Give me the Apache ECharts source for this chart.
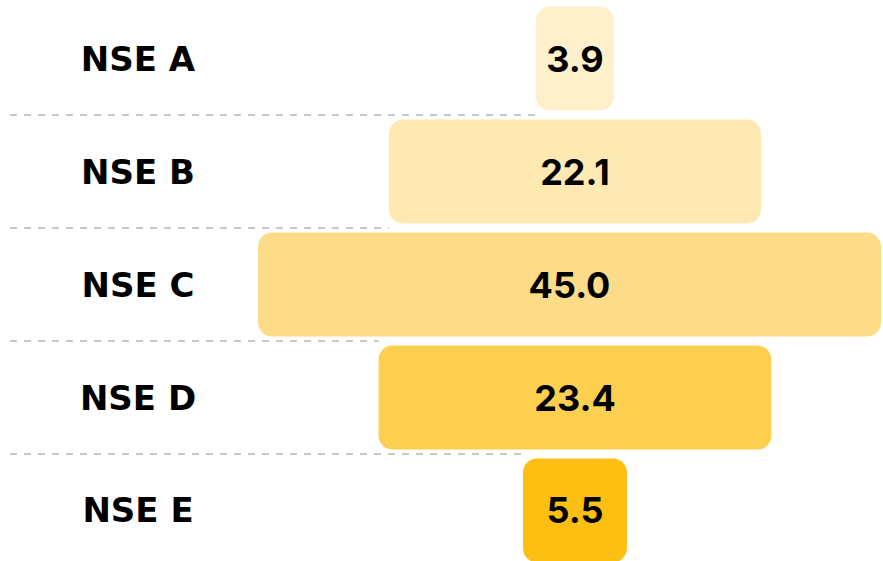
<!DOCTYPE html>
<html>
<head>
<meta charset="utf-8">
<script src="https://cdn.jsdelivr.net/npm/echarts@6/dist/echarts.min.js"></script>
<style>
  html, body { margin: 0; padding: 0; background: #fff; }
  #nse-chart { width: 883px; height: 561px; }
</style>
</head>
<body>
<div id="nse-chart"></div>
<script>
// ==============================================================
// data
// ==============================================================
var categories = ['NSE A', 'NSE B', 'NSE C', 'NSE D', 'NSE E'];
var values = [3.9, 22.1, 45.0, 23.4, 5.5];

// bar colours, light to dark
var barColors = ['#FEF0CB', '#FEE9B2', '#FDDC89', '#FDCF4F', '#FDBF12'];

var LABEL_FONT = '"DejaVu Sans", sans-serif';
var VALUE_FONT = '"Inter", "DejaVu Sans", sans-serif';

// ==============================================================
// centred bars chart option
// ==============================================================
var myChart = echarts.init(document.getElementById('nse-chart'), null, { renderer: 'svg' });

function renderBar(params, api) {
    var idx = params.dataIndex;
    var v = api.value(0);
    var c = api.coord([0, api.value(1)]);
    var band = api.size([0, 1])[1];
    var grid = params.coordSys;
    var pad = 15;

    function halfWidth(val) {
        return (api.size([val, 0])[0] + pad) / 2;
    }

    var h = band * 0.92;
    var x0 = Math.max(c[0] - halfWidth(v), grid.x);
    var x1 = Math.min(c[0] + halfWidth(v), grid.x + grid.width);

    var children = [];

    // dashed separator under the row
    if (idx < values.length - 1) {
        var narrow = Math.min(halfWidth(v), halfWidth(values[idx + 1]));
        var yLine = c[1] + band / 2;
        children.push({
            type: 'line',
            shape: { x1: 10, y1: yLine, x2: c[0] - narrow, y2: yLine },
            style: { stroke: '#c8c8c8', lineWidth: 2, lineDash: [7, 7] }
        });
    }

    // row label
    children.push({
        type: 'text',
        style: {
            text: categories[idx],
            x: grid.x - 120,
            y: c[1],
            align: 'center',
            verticalAlign: 'middle',
            fill: '#000',
            font: 'bold 34px ' + LABEL_FONT
        }
    });

    children.push({
        type: 'rect',
        shape: { x: x0, y: c[1] - h / 2, width: x1 - x0, height: h, r: 14 },
        style: { fill: barColors[idx] }
    });

    children.push({
        type: 'text',
        style: {
            text: v.toFixed(1),
            x: (x0 + x1) / 2,
            y: c[1],
            align: 'center',
            verticalAlign: 'middle',
            fill: '#000',
            font: 'bold 36px ' + VALUE_FONT
        }
    });

    return { type: 'group', children: children };
}

option = {
    animation: false,
    grid: {
        left: 258,
        right: 2,
        top: 0,
        bottom: 0
    },
    xAxis: {
        type: 'value',
        min: -19.63,
        max: 18.95,
        show: false
    },
    yAxis: {
        type: 'value',
        inverse: true,
        min: -0.518,
        max: 4.447,
        show: false
    },
    series: [
        {
            type: 'custom',
            renderItem: renderBar,
            encode: { x: 0, y: 1 },
            data: values.map(function (v, i) { return [v, i]; })
        }
    ]
};

myChart.setOption(option, true);
</script>
</body>
</html>
